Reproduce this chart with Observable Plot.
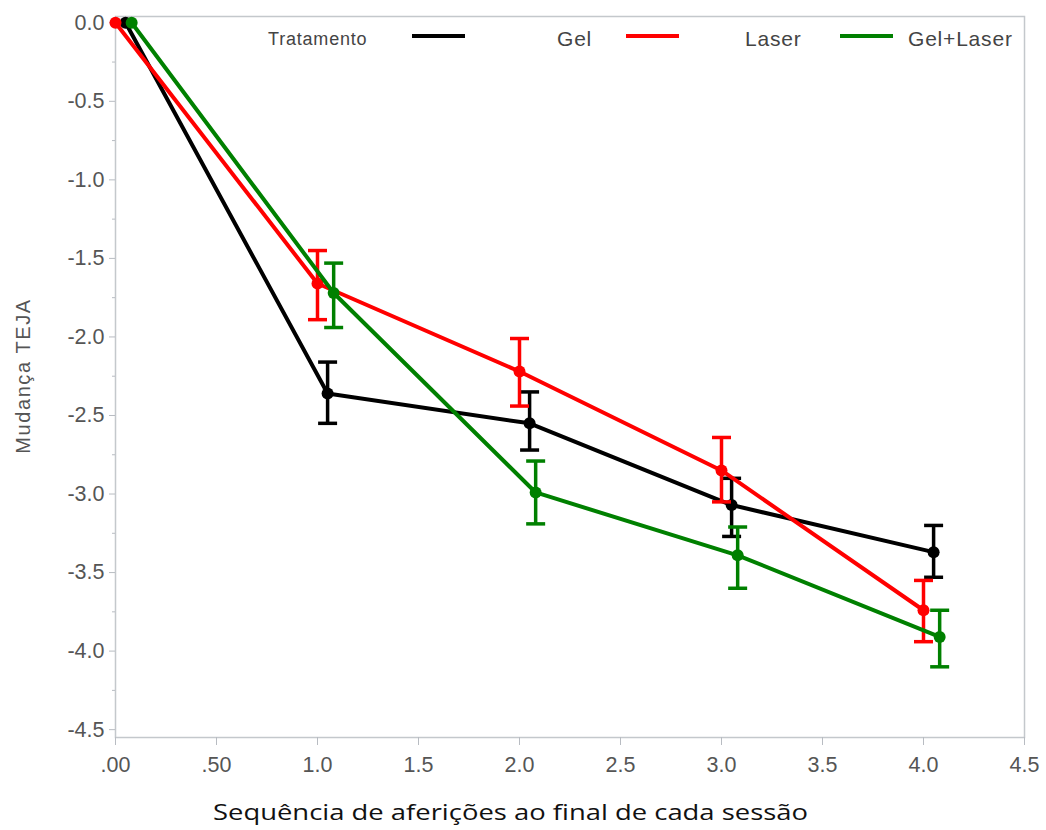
<!DOCTYPE html>
<html><head><meta charset="utf-8">
<script src="https://cdn.jsdelivr.net/npm/d3@7"></script>
<script src="https://cdn.jsdelivr.net/npm/@observablehq/plot@0.6"></script>
<style>
body{margin:0;background:#fff}
#wrap{position:relative;width:1046px;height:830px}
.lg{position:absolute;font-family:"Liberation Sans",Arial,sans-serif;color:#444;white-space:nowrap;line-height:1}
.sw{position:absolute;height:4px}
svg g[aria-label="x-axis tick"], svg g[aria-label="y-axis tick"]{stroke:#b8bcc2}
svg g[aria-label="x-axis tick label"], svg g[aria-label="y-axis tick label"]{fill:#555}
</style>
</head><body><div id="wrap"></div>
<script>
const sessions = [0, 1, 2, 3, 4];
const groups = ["Gel", "Laser", "Gel+Laser"];
const colors = ["#000000", "#ff0000", "#008000"];
const shift = [0.05, 0, 0.08];
const gelMean = [0, -2.36, -2.55, -3.07, -3.37];
const gelLow = [0, -2.55, -2.72, -3.27, -3.53];
const gelHigh = [0, -2.16, -2.35, -2.90, -3.20];
const laserMean = [0, -1.66, -2.22, -2.85, -3.74];
const laserLow = [0, -1.89, -2.44, -3.05, -3.94];
const laserHigh = [0, -1.45, -2.01, -2.64, -3.55];
const glMean = [0, -1.72, -2.99, -3.39, -3.91];
const glLow = [0, -1.94, -3.19, -3.60, -4.10];
const glHigh = [0, -1.53, -2.79, -3.21, -3.74];
const xTicks = [0, 0.5, 1, 1.5, 2, 2.5, 3, 3.5, 4, 4.5];
const yTicks = [0, -0.5, -1, -1.5, -2, -2.5, -3, -3.5, -4, -4.5];
const yMinor = [-0.25, -0.75, -1.25, -1.75, -2.25, -2.75, -3.25, -3.75, -4.25];

const series = [[gelMean, gelLow, gelHigh], [laserMean, laserLow, laserHigh], [glMean, glLow, glHigh]];
const rows = [];
series.forEach(([m, lo, hi], i) => {
  sessions.forEach((s, j) => rows.push({group: groups[i], x: s + shift[i], y: m[j], lo: lo[j], hi: hi[j]}));
});
const errRows = rows.filter(d => d.lo !== d.hi);

const cap = {draw(ctx, size) { const r = Math.sqrt(size / Math.PI); ctx.moveTo(-r, 0); ctx.lineTo(r, 0); }};
const fx = v => v < 1 ? d3.format(".2f")(v).replace(/^0/, "") : v.toFixed(1);
const fy = v => (v < 0 ? "-" : "") + Math.abs(v).toFixed(1);

const order = ["Gel", "Laser", "Gel+Laser"];
const chart = Plot.plot({
  width: 1046, height: 830,
  marginLeft: 115, marginRight: 22, marginTop: 16, marginBottom: 93,
  style: {fontFamily: "Liberation Sans, Arial, sans-serif", fontSize: "21px", background: "#fff"},
  x: {domain: [0, 4.5]},
  y: {domain: [-4.55, 0.04]},
  color: {domain: groups, range: colors},
  marks: [
    Plot.frame({stroke: "#c4c8cc", strokeWidth: 1.5}),
    Plot.axisY({ticks: yMinor, tickSize: 3, tickFormat: () => "", label: null}),
    Plot.axisY({ticks: yTicks, tickSize: 6, tickPadding: 5, tickFormat: fy, label: null, fontSize: 21.5}),
    Plot.axisX({ticks: xTicks, tickSize: 8, tickPadding: 11, tickFormat: fx, label: null, fontSize: 21.5}),
    ...order.map(g => [
      Plot.link(errRows.filter(d => d.group === g), {x1: "x", x2: "x", y1: "lo", y2: "hi", stroke: "group", strokeWidth: 3.5}),
      Plot.dot(errRows.filter(d => d.group === g), {x: "x", y: "lo", symbol: cap, r: 9.5, stroke: "group", fill: "none", strokeWidth: 3.5}),
      Plot.dot(errRows.filter(d => d.group === g), {x: "x", y: "hi", symbol: cap, r: 9.5, stroke: "group", fill: "none", strokeWidth: 3.5}),
      Plot.line(rows.filter(d => d.group === g), {x: "x", y: "y", stroke: "group", strokeWidth: 4}),
      Plot.dot(rows.filter(d => d.group === g), {x: "x", y: "y", fill: "group", r: 6})
    ]).flat()
  ]
});

const svg = d3.select(chart);
svg.append("text")
  .attr("transform", "translate(30,376) rotate(-90)")
  .attr("text-anchor", "middle")
  .attr("fill", "#555")
  .style("font-size", "20px")
  .style("font-family", "Liberation Sans, Arial, sans-serif")
  .attr("letter-spacing", 1.6)
  .text("Mudança TEJA");
svg.append("text")
  .attr("x", 213).attr("y", 820)
  .attr("text-anchor", "start")
  .attr("fill", "#111")
  .style("font-size", "22px")
  .style("font-family", "Open Sans, Noto Sans, sans-serif")
  .attr("textLength", 595).attr("lengthAdjust", "spacingAndGlyphs")
  .text("Sequência de aferições ao final de cada sessão");

const wrap = document.getElementById("wrap");
wrap.appendChild(chart);

const legendTitle = "Tratamento";
const legendItems = [
  {label: "Gel", color: colors[0], sw: 412, tx: 557},
  {label: "Laser", color: colors[1], sw: 626, tx: 745},
  {label: "Gel+Laser", color: colors[2], sw: 840, tx: 908}
];
function addText(t, left, top, size) {
  const d = document.createElement("div");
  d.className = "lg"; d.textContent = t;
  d.style.left = left + "px"; d.style.top = top + "px"; d.style.fontSize = size + "px";
  d.style.letterSpacing = "0.8px";
  wrap.appendChild(d);
}
addText(legendTitle, 268, 29.5, 18);
legendItems.forEach(it => {
  const s = document.createElement("div");
  s.className = "sw";
  s.style.left = it.sw + "px"; s.style.top = "34px"; s.style.width = "53px"; s.style.background = it.color;
  wrap.appendChild(s);
  addText(it.label, it.tx, 27.5, 21);
});
</script>
</body></html>
